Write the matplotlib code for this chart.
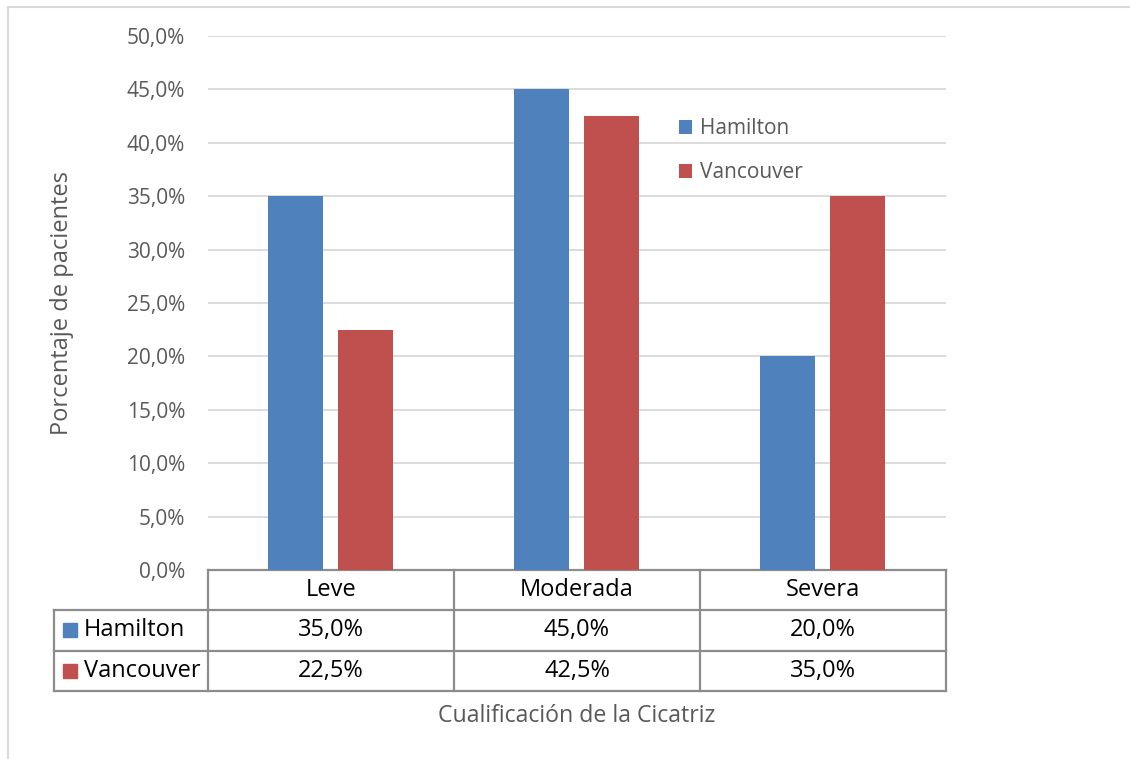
import matplotlib
matplotlib.use("Agg")
import matplotlib.pyplot as plt
from matplotlib.lines import Line2D
from matplotlib.patches import Rectangle

categories = ["Leve", "Moderada", "Severa"]
series_names = ["Hamilton", "Vancouver"]
hamilton = [35.0, 45.0, 20.0]
vancouver = [22.5, 42.5, 35.0]
yticks = [0, 5, 10, 15, 20, 25, 30, 35, 40, 45, 50]
colors = ["#4F81BD", "#C0504D"]

plt.rcParams['font.family'] = ['Open Sans', 'DejaVu Sans']

W, H = 1130, 759
fig = plt.figure(figsize=(W / 100, H / 100), dpi=100)
fig.patch.set_facecolor("white")

# outer light border (top + left)
fig.add_artist(Line2D([8 / W, 1.0], [1 - 7 / H, 1 - 7 / H], color="#D9D9D9", lw=1.5))
fig.add_artist(Line2D([8 / W, 8 / W], [0, 1 - 7 / H], color="#D9D9D9", lw=1.5))

x0, x1, y0, y1 = 208, 946, 570, 36
ax = fig.add_axes([x0 / W, 1 - y0 / H, (x1 - x0) / W, (y0 - y1) / H])
ax.set_xlim(-0.5, 2.5)
ax.set_ylim(0, 50)

bw = 0.2236
offs = [-0.144, 0.140]
xs = list(range(len(categories)))
for i, (vals, name) in enumerate(zip([hamilton, vancouver], series_names)):
    ax.bar([x + offs[i] for x in xs], vals, width=bw, color=colors[i], label=name, zorder=3)

ax.set_yticks(yticks)
ax.set_yticklabels([f"{v:.1f}%".replace(".", ",") for v in yticks], fontsize=15, color="#595959")
ax.tick_params(axis="y", length=0, pad=16.5)
ax.tick_params(axis="x", length=0, labelbottom=False)
ax.grid(axis="y", color="#D9D9D9", lw=1.3, zorder=0)
for s in ax.spines.values():
    s.set_visible(False)

# legend in plot
leg = ax.legend(loc="upper left", bbox_to_anchor=((671 - x0) / (x1 - x0), 1 - (110 - y1) / (y0 - y1)),
                frameon=False, fontsize=15, handlelength=0.6, handleheight=0.6, handletextpad=0.4,
                labelspacing=1.1, borderaxespad=0)
for t in leg.get_texts():
    t.set_color("#595959")

# data table below axis (axes-fraction coordinates)
pw = x1 - x0
ph = y0 - y1
row_h = 40.3 / ph
left_col = (54 - x0) / pw
tc = "#8C8C8C"
lw = 1.6
tkw = dict(transform=ax.transAxes, clip_on=False, color=tc, lw=lw, solid_capstyle="projecting")

def hline(xa, xb, y):
    ax.add_line(Line2D([xa, xb], [y, y], **tkw))

def vline(x, ya, yb):
    ax.add_line(Line2D([x, x], [ya, yb], **tkw))

hline(0, 1, 0)
for r in range(1, 4):
    hline(left_col, 1, -r * row_h)
for c in range(4):
    vline(c / 3, 0, -3 * row_h)
vline(left_col, -row_h, -3 * row_h)

tfs = 17
for c, cat in enumerate(categories):
    ax.text((c + 0.5) / 3, -0.5 * row_h, cat, transform=ax.transAxes, ha="center", va="center",
            fontsize=tfs, color="black")
for r, (vals, name) in enumerate(zip([hamilton, vancouver], series_names)):
    yc = -(r + 1.5) * row_h
    for c, v in enumerate(vals):
        ax.text((c + 0.5) / 3, yc, f"{v:.1f}%".replace(".", ","), transform=ax.transAxes,
                ha="center", va="center", fontsize=tfs, color="black")
    sq = 14 / pw
    sqh = 14 / ph
    ax.add_patch(Rectangle(((63 - x0) / pw, yc - sqh / 2), sq, sqh, transform=ax.transAxes,
                           color=colors[r], clip_on=False))
    ax.text((84 - x0) / pw, yc, name, transform=ax.transAxes, ha="left", va="center",
            fontsize=tfs, color="black")

# axis labels
fig.text(62 / W, 1 - 303 / H, "Porcentaje de pacientes", rotation=90, ha="center", va="center",
         fontsize=17, color="#595959")
fig.text(577 / W, 1 - 716 / H, "Cualificación de la Cicatriz", ha="center", va="center",
         fontsize=16.7, color="#595959")

fig.savefig("out.png", dpi=100, facecolor="white")
